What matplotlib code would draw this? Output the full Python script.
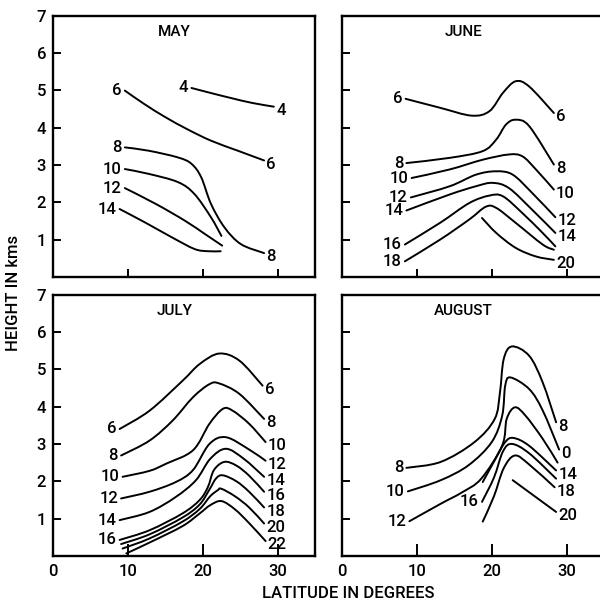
import numpy as np
import matplotlib
matplotlib.use("Agg")
import matplotlib.pyplot as plt
from matplotlib.path import Path
from matplotlib.patches import PathPatch

plt.rcParams['font.family'] = ['Roboto', 'DejaVu Sans']
plt.rcParams['font.weight'] = 'medium'

# Isolines per month: latitude (deg) and height (km)
may_lat = [
    [18.5, 21.2, 23.8, 26.6, 29.5],
    [9.6, 12.2, 15.0, 18.0, 21.1, 24.7, 28.2],
    [9.6, 12.8, 16.7, 18.5, 19.8, 21.1, 22.9, 25.1, 28.2],
    [9.6, 12.8, 16.7, 18.9, 21.1, 22.5],
    [9.6, 13.7, 17.6, 20.3, 22.6],
    [8.9, 12.3, 15.9, 18.9, 20.7, 22.4],
]
may_h = [
    [5.06, 4.92, 4.79, 4.66, 4.56],
    [4.99, 4.63, 4.28, 3.95, 3.65, 3.38, 3.12],
    [3.47, 3.38, 3.20, 3.03, 2.67, 1.96, 1.33, 0.88, 0.64],
    [2.89, 2.76, 2.54, 2.22, 1.60, 1.10],
    [2.38, 1.96, 1.51, 1.15, 0.84],
    [1.82, 1.46, 1.06, 0.75, 0.69, 0.69],
]
may_left = ['4', '6', '8', '10', '12', '14']
may_right = ['4', '6', '8', None, None, None]

june_lat = [
    [8.5, 13.1, 17.3, 19.7, 21.5, 23.2, 25.0, 28.3],
    [8.6, 14.4, 18.8, 20.6, 21.9, 23.2, 25.0, 28.3],
    [9.3, 14.4, 18.8, 22.3, 24.1, 25.9, 28.3],
    [9.2, 14.4, 17.9, 20.6, 22.8, 25.4, 28.5],
    [8.6, 14.4, 17.9, 20.1, 22.3, 25.4, 28.5],
    [8.4, 13.1, 17.0, 19.7, 21.5, 24.1, 26.8, 28.5],
    [8.4, 13.1, 17.0, 19.2, 20.6, 23.2, 26.8, 28.3],
    [18.7, 20.6, 23.2, 25.9, 28.3],
]
june_h = [
    [4.77, 4.53, 4.32, 4.44, 4.93, 5.24, 5.10, 4.39],
    [3.05, 3.19, 3.37, 3.68, 4.08, 4.21, 4.04, 3.01],
    [2.65, 2.88, 3.14, 3.28, 3.23, 2.88, 2.34],
    [2.13, 2.43, 2.74, 2.83, 2.74, 2.25, 1.60],
    [1.78, 2.21, 2.43, 2.52, 2.38, 1.80, 1.18],
    [0.87, 1.45, 1.98, 2.18, 2.16, 1.71, 1.18, 0.82],
    [0.42, 1.00, 1.54, 1.88, 1.85, 1.45, 0.87, 0.73],
    [1.58, 1.18, 0.78, 0.55, 0.46],
]
june_left = ['6', '8', '10', '12', '14', '16', '18', None]
june_right = ['6', '8', '10', '12', '14', None, None, '20']

july_lat = [
    [8.9, 12.9, 17.3, 19.6, 22.2, 24.9, 28.0],
    [9.1, 12.9, 16.0, 18.7, 20.9, 22.2, 24.9, 28.2],
    [9.3, 12.9, 15.1, 18.7, 20.9, 22.7, 24.0, 26.2, 28.4],
    [9.1, 12.9, 16.4, 18.7, 20.9, 23.1, 26.2, 28.4],
    [8.9, 12.9, 16.4, 19.1, 21.0, 23.1, 25.5, 28.2],
    [8.9, 12.9, 17.3, 19.6, 20.7, 21.5, 22.9, 24.5, 26.2, 28.2],
    [9.1, 12.9, 17.3, 19.6, 20.9, 21.8, 22.7, 24.5, 26.2, 28.2],
    [9.3, 12.9, 17.3, 19.6, 21.0, 22.0, 22.5, 24.3, 26.2, 28.2],
    [9.8, 12.9, 17.3, 19.6, 21.0, 22.5, 24.3, 26.2, 28.4],
]
july_h = [
    [3.40, 3.89, 4.69, 5.14, 5.42, 5.23, 4.56],
    [2.69, 3.09, 3.63, 4.25, 4.60, 4.62, 4.34, 3.67],
    [2.12, 2.28, 2.47, 2.83, 3.54, 3.94, 3.89, 3.54, 3.05],
    [1.54, 1.72, 1.98, 2.30, 3.00, 3.18, 2.85, 2.55],
    [0.96, 1.18, 1.58, 2.03, 2.60, 2.87, 2.60, 2.12],
    [0.43, 0.69, 1.14, 1.50, 1.85, 2.30, 2.52, 2.42, 2.15, 1.72],
    [0.32, 0.58, 1.03, 1.38, 1.78, 2.08, 2.16, 2.00, 1.72, 1.30],
    [0.20, 0.47, 0.92, 1.26, 1.60, 1.76, 1.80, 1.60, 1.30, 0.87],
    [0.07, 0.36, 0.80, 1.14, 1.36, 1.47, 1.25, 0.88, 0.40],
]
july_left = ['6', '8', '10', '12', '14', '16', None, None, None]
july_right = ['6', '8', '10', '12', '14', '16', '18', '20', '22']

aug_lat = [
    [8.6, 13.2, 17.7, 20.4, 21.1, 21.6, 22.7, 25.0, 26.8, 28.6],
    [8.8, 13.2, 16.9, 20.0, 21.4, 21.8, 22.5, 25.0, 26.8, 29.0],
    [9.0, 13.2, 16.0, 18.6, 21.4, 22.0, 23.1, 24.5, 26.8, 28.8],
    [18.8, 20.5, 21.8, 22.9, 25.0, 28.6],
    [18.7, 20.3, 21.5, 22.7, 25.0, 28.6],
    [18.8, 20.3, 21.6, 23.1, 25.0, 28.4],
    [22.8, 28.6],
]
aug_h = [
    [2.36, 2.52, 3.05, 3.67, 4.38, 5.27, 5.61, 5.36, 4.65, 3.58],
    [1.73, 2.03, 2.43, 3.05, 3.76, 4.56, 4.78, 4.47, 3.90, 2.85],
    [0.93, 1.40, 1.70, 2.07, 2.96, 3.67, 3.98, 3.76, 3.14, 2.50],
    [1.98, 2.60, 3.05, 3.16, 2.95, 2.29],
    [1.45, 2.10, 2.80, 3.00, 2.75, 2.07],
    [0.92, 1.60, 2.35, 2.69, 2.45, 1.84],
    [2.03, 1.18],
]
aug_left = ['8', '10', '12', None, '16', None, None]
aug_right = ['8', '0', None, '14', None, '18', '20']

months = ['MAY', 'JUNE', 'JULY', 'AUGUST']
xticks = [0, 10, 20, 30]
yticks = [1, 2, 3, 4, 5, 6, 7]


def smooth(x, y):
    # Catmull-Rom through the read points, drawn as cubic Bezier segments
    p = np.column_stack([x, y])
    n = len(p)
    verts = [p[0]]
    codes = [Path.MOVETO]
    for i in range(n - 1):
        a = p[max(i - 1, 0)]
        d = p[min(i + 2, n - 1)]
        verts += [p[i] + (p[i + 1] - a) / 6, p[i + 1] - (d - p[i]) / 6, p[i + 1]]
        codes += [Path.CURVE4] * 3
    return Path(verts, codes)


fig = plt.figure(figsize=(6.0, 6.06), dpi=100)
w, h = 0.4367, 0.4315
boxes = [[0.0883, 0.5429, w, h], [0.57, 0.5429, w, h],
         [0.0883, 0.0825, w, h], [0.57, 0.0825, w, h]]
panels = [(may_lat, may_h, may_left, may_right),
          (june_lat, june_h, june_left, june_right),
          (july_lat, july_h, july_left, july_right),
          (aug_lat, aug_h, aug_left, aug_right)]

for k, (box, (lats, hs, lefts, rights)) in enumerate(zip(boxes, panels)):
    ax = fig.add_axes(box)
    ax.set_xlim(0, 35)
    ax.set_ylim(0, 7)
    for s in ax.spines.values():
        s.set_linewidth(1.7)
    bottom = k >= 2
    ax.set_xticks(xticks)
    ax.set_yticks(yticks)
    ax.tick_params(axis='y', direction='in', length=6, width=1.4,
                   labelsize=12, pad=5, labelleft=(k % 2 == 0))
    ax.tick_params(axis='x', direction='in', length=9 if bottom else 6,
                   width=1.4, labelsize=12, pad=6, labelbottom=bottom)
    for lt, hh, ll, rl in zip(lats, hs, lefts, rights):
        ax.add_patch(PathPatch(smooth(lt, hh), fill=False, lw=1.4,
                               ec='black', capstyle='round'))
        if ll:
            ax.text(lt[0] - 0.4, hh[0], ll, ha='right', va='center', fontsize=12)
        if rl:
            ax.text(lt[-1] + 0.3, hh[-1] - 0.1, rl, ha='left', va='center',
                    fontsize=12)
    ax.text(16.2, 6.55, months[k], ha='center', va='center', fontsize=11)

fig.text(0.023, 0.516, 'HEIGHT IN kms', rotation=90, ha='center',
         va='center', fontsize=12)
fig.text(0.58, 0.021, 'LATITUDE IN DEGREES', ha='center', va='center',
         fontsize=12)

fig.savefig('out.png', dpi=100)
